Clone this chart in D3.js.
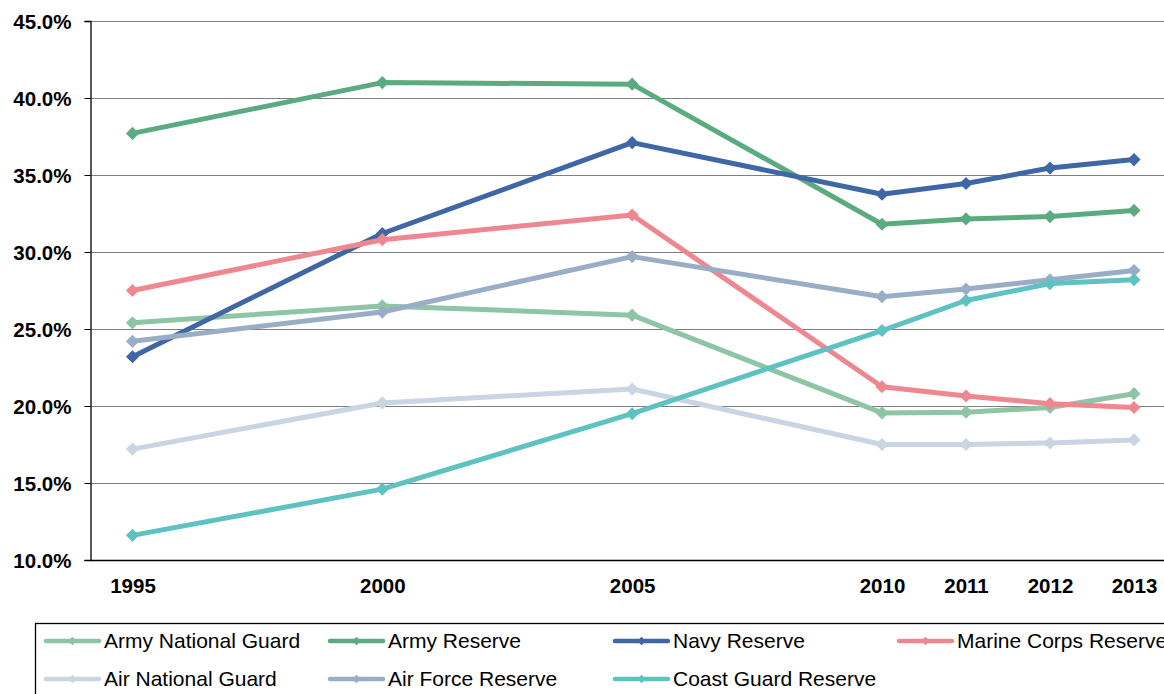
<!DOCTYPE html>
<html lang="en">
<head>
  <meta charset="UTF-8">
  <title>Reserve Components</title>
  <script src="https://d3js.org/d3.v7.min.js"></script>
  <style>
    body {
      margin: 0;
      font-family: "Liberation Sans", Arial, sans-serif;
      background: #fff;
      overflow: hidden;
    }
    .axis text {
      font-weight: bold;
      font-size: 20.5px;
      fill: #000;
    }
    .legend text {
      font-size: 21px;
      fill: #000;
    }
  </style>
</head>
<body>
  <svg width="1164" height="694"></svg>

  <script>
    const years = [1995, 2000, 2005, 2010, 2011, 2012, 2013];
    const seriesNames = ["Army National Guard", "Army Reserve", "Navy Reserve", "Marine Corps Reserve",
                         "Air National Guard", "Air Force Reserve", "Coast Guard Reserve"];
    const colors = ["#8dc5a5", "#5aac80", "#3f66a5", "#ee8790", "#c9d5e2", "#99aec6", "#5ec2c2"];

    const armyNationalGuard = [25.4, 26.5, 25.9, 19.55, 19.6, 19.9, 20.8];
    const armyReserve       = [37.7, 41.0, 40.9, 31.8, 32.15, 32.3, 32.7];
    const navyReserve       = [23.2, 31.2, 37.1, 33.75, 34.45, 35.45, 36.0];
    const marineReserve     = [27.5, 30.8, 32.4, 21.25, 20.65, 20.15, 19.9];
    const airNationalGuard  = [17.2, 20.2, 21.1, 17.5, 17.5, 17.6, 17.8];
    const airForceReserve   = [24.2, 26.1, 29.7, 27.1, 27.6, 28.2, 28.8];
    const coastGuardReserve = [11.6, 14.6, 19.5, 24.9, 26.85, 27.95, 28.2];

    const yTicks = [10, 15, 20, 25, 30, 35, 40, 45];

    const values = [armyNationalGuard, armyReserve, navyReserve, marineReserve,
                    airNationalGuard, airForceReserve, coastGuardReserve];

    const svg = d3.select("svg");
    const plotLeft = 90.5, plotRight = 1175, plotTop = 21, plotBottom = 560;

    // category axis in the source: years 1995-2010 every 5, then yearly, equal slots
    const x = d3.scaleLinear()
      .domain([1995, 2010, 2013])
      .range([132.5, 882, 1134]);

    const y = d3.scaleLinear()
      .domain([10, 45])
      .range([plotBottom, plotTop]);

    // gridlines
    svg.append("g")
      .selectAll("line")
      .data(yTicks.slice(1))
      .join("line")
      .attr("x1", plotLeft)
      .attr("x2", plotRight)
      .attr("y1", d => Math.round(y(d)) + 0.5)
      .attr("y2", d => Math.round(y(d)) + 0.5)
      .attr("stroke", "#7f7f7f")
      .attr("stroke-width", 1.2);

    // Y axis
    const yAxis = svg.append("g")
      .attr("class", "axis")
      .attr("transform", `translate(${plotLeft},0)`)
      .call(d3.axisLeft(y).tickValues(yTicks).tickSize(6).tickPadding(13)
        .tickFormat(d => d.toFixed(1) + "%"));
    yAxis.select(".domain").attr("stroke", "#000").attr("stroke-width", 1.3);
    yAxis.selectAll(".tick line").attr("stroke", "#000");
    yAxis.selectAll(".tick text").attr("dy", "0.36em");

    // X axis
    const xAxis = svg.append("g")
      .attr("class", "axis")
      .attr("transform", `translate(0,${plotBottom})`)
      .call(d3.axisBottom(x).tickValues(years).tickSize(0).tickPadding(18)
        .tickFormat(d3.format("d")));
    xAxis.select(".domain").remove();
    svg.append("line")
      .attr("x1", plotLeft).attr("x2", plotRight)
      .attr("y1", plotBottom + 0.5).attr("y2", plotBottom + 0.5)
      .attr("stroke", "#000").attr("stroke-width", 1.3);

    const line = d3.line()
      .x((d, i) => x(years[i]))
      .y(d => y(d));

    const diamond = d3.symbol().type(d3.symbolDiamond2).size(110);

    values.forEach((vals, k) => {
      const g = svg.append("g");
      g.append("path")
        .datum(vals)
        .attr("d", line)
        .attr("fill", "none")
        .attr("stroke", colors[k])
        .attr("stroke-width", 5)
        .attr("stroke-linejoin", "round");
      g.selectAll("path.pt")
        .data(vals)
        .join("path")
        .attr("class", "pt")
        .attr("d", diamond)
        .attr("transform", (d, i) => `translate(${x(years[i])},${y(d)})`)
        .attr("fill", colors[k]);
    });

    // legend
    const legend = svg.append("g").attr("class", "legend");
    legend.append("rect")
      .attr("x", 35.5).attr("y", 623.5)
      .attr("width", 1160).attr("height", 100)
      .attr("fill", "none").attr("stroke", "#000").attr("stroke-width", 1.3);

    const colX = [45, 329, 614, 898];
    const rowY = [641, 679];
    seriesNames.forEach((name, k) => {
      const cx = colX[k % 4], cy = rowY[Math.floor(k / 4)];
      const item = legend.append("g").attr("transform", `translate(${cx},${cy})`);
      item.append("line")
        .attr("x1", 1).attr("x2", 54)
        .attr("stroke", colors[k]).attr("stroke-width", 4.5)
        .attr("stroke-linecap", "round");
      item.append("path")
        .attr("d", d3.symbol().type(d3.symbolDiamond2).size(45))
        .attr("transform", "translate(27.5,0)")
        .attr("fill", colors[k]);
      item.append("text")
        .attr("x", 59)
        .attr("dy", "0.35em")
        .text(name);
    });
  </script>
</body>
</html>
